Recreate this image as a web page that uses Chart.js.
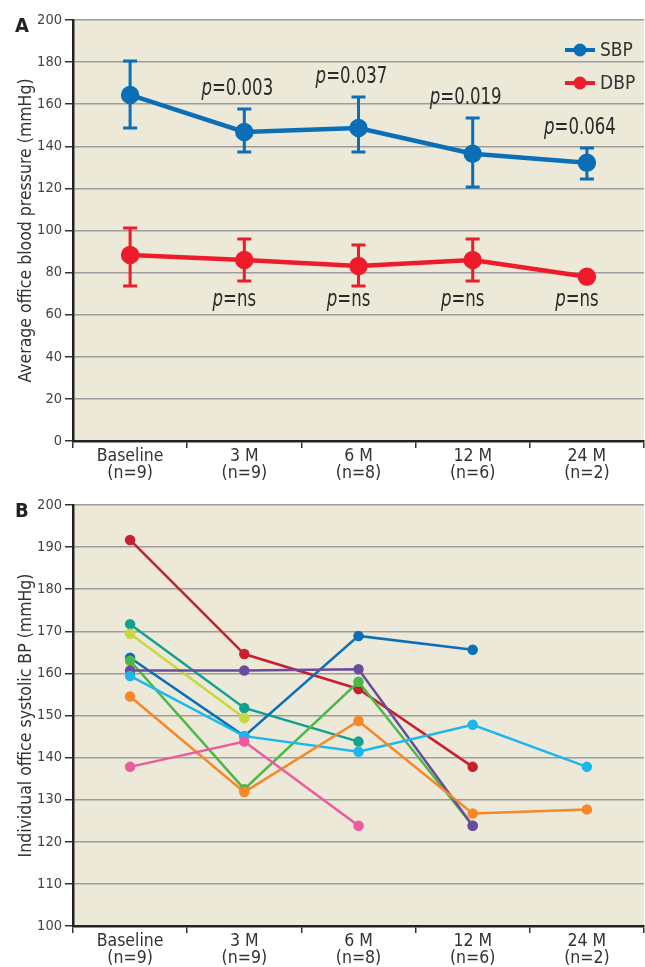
<!DOCTYPE html>
<html>
<head>
<meta charset="utf-8">
<script src="https://cdn.jsdelivr.net/npm/chart.js@4.4.1/dist/chart.umd.min.js"></script>
<style>
  body { margin: 0; background: #fff; }
  .panel { position: relative; width: 645px; }
  .tag { position: absolute; left: 15px; font: bold 20px "Liberation Sans Narrow", "DejaVu Sans Condensed", sans-serif; color: #222; }
</style>
</head>
<body>
<div class="panel" style="height:485px">
  <div class="tag" style="top:13px">A</div>
  <canvas id="chartA" width="645" height="485"></canvas>
</div>
<div class="panel" style="height:482px">
  <div class="tag" style="top:13px">B</div>
  <canvas id="chartB" width="645" height="482"></canvas>
</div>
<script>
const FONT = '"Liberation Sans Narrow", "DejaVu Sans Condensed", sans-serif';

const timepoints = [
  ["Baseline", "(n=9)"],
  ["3 M", "(n=9)"],
  ["6 M", "(n=8)"],
  ["12 M", "(n=6)"],
  ["24 M", "(n=2)"],
];

// panel A
const sbpMean = [164.4, 146.8, 148.7, 136.5, 132.2];
const sbpLow = [148.7, 137.3, 137.3, 120.7, 124.5];
const sbpHigh = [180.5, 157.7, 163.4, 153.4, 139.2];
const dbpMean = [88.4, 86.0, 83.1, 86.0, 78.0];
const dbpLow = [73.6, 76.0, 73.6, 76.0, null];
const dbpHigh = [101.2, 96.0, 93.1, 96.0, null];
const sbpP = [null, "0.003", "0.037", "0.019", "0.064"];
const dbpP = [null, "ns", "ns", "ns", "ns"];

// panel B, one array per patient
const patient1 = [191.7, 164.6, 156.3, 137.8, null];
const patient2 = [171.7, 151.8, 143.8, null, null];
const patient3 = [169.4, 149.4, null, null, null];
const patient4 = [163.7, 145.1, 168.9, 165.6, null];
const patient5 = [163.0, 132.5, 158.0, 123.8, null];
const patient6 = [160.7, 160.7, 161.0, 123.8, null];
const patient7 = [159.4, 145.1, 141.4, 147.8, 137.8];
const patient8 = [154.5, 131.8, 148.7, 126.7, 127.7];
const patient9 = [137.8, 143.8, 123.8, null, null];

const patientColors = ["#c8202f", "#12a08f", "#c6d83c", "#0b6fb8", "#4db748",
  "#6a4c9c", "#1cb7eb", "#f6882a", "#ec5a9f"];

const bgPlugin = {
  id: "bg",
  beforeDraw(chart) {
    const { ctx, chartArea: a } = chart;
    ctx.save();
    ctx.fillStyle = "#ece9d8";
    ctx.fillRect(a.left, a.top, a.right - a.left, a.bottom - a.top);
    ctx.restore();
  },
};

function makeScales(min, max, step, title) {
  return {
    x: {
      offset: true,
      grid: { offset: true, drawOnChartArea: false, drawTicks: true, tickLength: 7, tickColor: "#333", lineWidth: 1.5 },
      border: { display: true, color: "#222", width: 2.5 },
      ticks: { color: "#333", font: { family: FONT, size: 17.5, lineHeight: 0.97 }, padding: 0 },
      afterFit(s) {
        s.height = s.chart.height - 441;
        s.paddingLeft = 0;
        s.paddingRight = 0;
      },
    },
    y: {
      min, max,
      ticks: { stepSize: step, color: "#444", font: { family: FONT, size: 14.5 }, padding: 3 },
      grid: { color: "#9d9d9d", lineWidth: 1.5, tickLength: 8, tickColor: "#333" },
      border: { display: true, color: "#222", width: 2.5 },
      title: { display: true, text: title, color: "#333", font: { family: FONT, size: 17.5 }, padding: { top: 16 } },
      afterFit(s) { s.width = 73; },
    },
  };
}

const errorBars = {
  id: "errorBars",
  beforeDatasetsDraw(chart) {
    const { ctx } = chart;
    const xs = chart.scales.x, ys = chart.scales.y;
    const sets = [[sbpLow, sbpHigh, "#0b6fb8"], [dbpLow, dbpHigh, "#ee1c2a"]];
    ctx.save();
    ctx.lineWidth = 3;
    sets.forEach(([lo, hi, color]) => {
      ctx.strokeStyle = color;
      lo.forEach((v, i) => {
        if (v == null) return;
        const x = xs.getPixelForValue(i);
        const y1 = ys.getPixelForValue(v), y2 = ys.getPixelForValue(hi[i]);
        ctx.beginPath();
        ctx.moveTo(x, y1); ctx.lineTo(x, y2);
        ctx.moveTo(x - 7, y1); ctx.lineTo(x + 7, y1);
        ctx.moveTo(x - 7, y2); ctx.lineTo(x + 7, y2);
        ctx.stroke();
      });
    });
    ctx.restore();
  },
};

// p labels use a narrowed face to look like the original condensed type
function drawP(ctx, x, y, value) {
  ctx.save();
  ctx.translate(x, y);
  ctx.scale(0.8, 1);
  ctx.font = "italic 23px " + FONT;
  const w1 = ctx.measureText("p").width;
  ctx.font = "23px " + FONT;
  const w2 = ctx.measureText("=" + value).width;
  const left = -(w1 + w2) / 2;
  ctx.font = "italic 23px " + FONT;
  ctx.fillText("p", left, 0);
  ctx.font = "23px " + FONT;
  ctx.fillText("=" + value, left + w1, 0);
  ctx.restore();
}

const annotations = {
  id: "annotations",
  afterDraw(chart) {
    const { ctx, chartArea: a } = chart;
    const xs = chart.scales.x, ys = chart.scales.y;
    ctx.save();
    ctx.fillStyle = "#2a2a2a";
    ctx.textBaseline = "alphabetic";
    sbpP.forEach((v, i) => {
      if (!v) return;
      drawP(ctx, xs.getPixelForValue(i) - 7, ys.getPixelForValue(sbpHigh[i]) - 14, v);
    });
    const lows = dbpLow.filter((v, i) => dbpP[i] && v != null);
    const yText = ys.getPixelForValue(Math.min(...lows)) + 20;
    dbpP.forEach((v, i) => {
      if (!v) return;
      drawP(ctx, xs.getPixelForValue(i) - 10, yText, v);
    });

    // legend
    const items = [["SBP", "#0b6fb8"], ["DBP", "#ee1c2a"]];
    items.forEach(([name, color], k) => {
      const y = a.top + 30 + k * 33;
      const x0 = a.right - 79;
      ctx.strokeStyle = color;
      ctx.fillStyle = color;
      ctx.lineWidth = 4;
      ctx.beginPath(); ctx.moveTo(x0, y); ctx.lineTo(x0 + 30, y); ctx.stroke();
      ctx.beginPath(); ctx.arc(x0 + 15, y, 6.5, 0, Math.PI * 2); ctx.fill();
      ctx.fillStyle = "#333";
      ctx.font = "19px " + FONT;
      ctx.textBaseline = "middle";
      ctx.fillText(name, x0 + 35, y + 1);
    });
    ctx.restore();
  },
};

function lineSet(label, data, color, width, radius) {
  return {
    label, data,
    borderColor: color, backgroundColor: color,
    pointBackgroundColor: color, pointBorderColor: color,
    borderWidth: width, pointRadius: radius, pointHoverRadius: radius,
    tension: 0, spanGaps: false,
  };
}

const baseOptions = {
  responsive: false,
  animation: false,
  layout: { autoPadding: false, padding: { top: 20, right: 1, left: 0, bottom: 0 } },
  plugins: { legend: { display: false }, tooltip: { enabled: false } },
};

new Chart(document.getElementById("chartA"), {
  type: "line",
  data: {
    labels: timepoints,
    datasets: [
      lineSet("SBP", sbpMean, "#0b6fb8", 4.5, 7),
      lineSet("DBP", dbpMean, "#ee1c2a", 4.5, 7),
    ],
  },
  options: {
    ...baseOptions,
    scales: makeScales(0, 200, 20, "Average office blood pressure (mmHg)"),
  },
  plugins: [bgPlugin, errorBars, annotations],
});

const patients = [patient1, patient2, patient3, patient4, patient5, patient6, patient7, patient8, patient9];

new Chart(document.getElementById("chartB"), {
  type: "line",
  data: {
    labels: timepoints,
    // later patients are drawn on top, as in the original
    datasets: patients.map((p, i) => ({
      ...lineSet("Patient " + (i + 1), p, patientColors[i], 2.5, 4),
      order: patients.length - i,
    })),
  },
  options: {
    ...baseOptions,
    scales: makeScales(100, 200, 10, "Individual office systolic BP (mmHg)"),
  },
  plugins: [bgPlugin],
});
</script>
</body>
</html>
